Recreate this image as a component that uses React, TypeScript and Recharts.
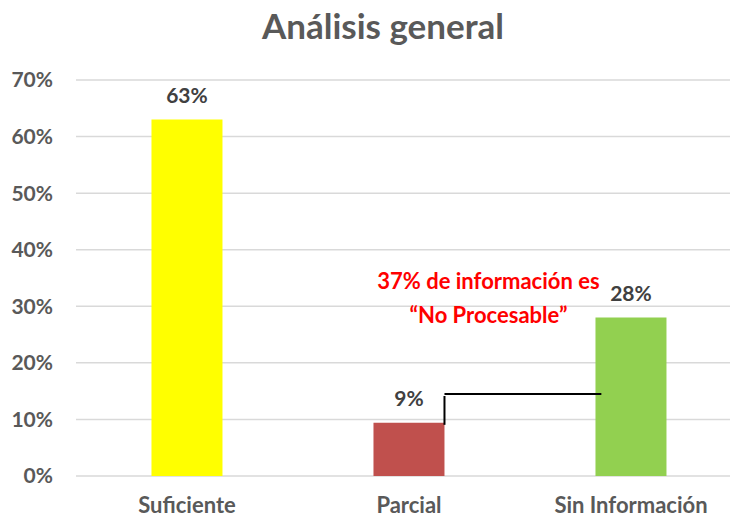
import React from 'react';
import { BarChart, Bar, XAxis, YAxis, CartesianGrid, Cell, LabelList } from 'recharts';

const categories = ['Suficiente', 'Parcial', 'Sin Información'];
const values = [0.63, 0.094, 0.28];
const barColors = ['#FFFF00', '#C0504D', '#92D050'];
const yTicks = [0, 0.1, 0.2, 0.3, 0.4, 0.5, 0.6, 0.7];
const noteLines = ['37% de información es', '“No Procesable”'];
const noteLevels = [0.33, 0.27];
const bracketLevel = 0.145;

const data = categories.map((name, i) => ({ name, value: values[i] }));

const FONT = 'Lato, "Open Sans", sans-serif';
const GAP = 0.34;

const pct = (v: number) => `${Math.round(v * 100)}%`;

const Note = (props: any) => {
  if (props.index !== 1) return null;
  const vb = props.viewBox || props;
  const { x, y, width, height } = vb;
  const ppu = height / values[1];
  const base = y + height;
  const lineY = base - bracketLevel * ppu;
  const band = width / (1 - 2 * GAP);
  const xr = x + width;
  return (
    <g>
      <line x1={xr} y1={lineY + 2} x2={xr} y2={y + 2} stroke="#000" strokeWidth={2} />
      <line x1={xr} y1={lineY} x2={x + band + 6} y2={lineY} stroke="#000" strokeWidth={2} />
      {noteLines.map((t, i) => (
        <text
          key={t}
          x={xr + 44}
          y={base - noteLevels[i] * ppu}
          textAnchor="middle"
          fill="#FF0000"
          fontFamily={FONT}
          fontWeight={700}
          fontSize={22}
        >
          {t}
        </text>
      ))}
    </g>
  );
};

export default function App() {
  return (
    <div style={{ position: 'absolute', left: 0, top: 0, width: 730, height: 517, overflow: 'hidden', background: '#fff' }}>
      <div
        style={{
          position: 'absolute',
          left: 0,
          top: 4,
          width: 766,
          textAlign: 'center',
          fontFamily: FONT,
          fontWeight: 700,
          fontSize: 35,
          color: '#595959',
          lineHeight: '42px',
        }}
      >
        Análisis general
      </div>
      <BarChart
        width={742}
        height={517}
        data={data}
        margin={{ top: 80, right: 0, bottom: 0, left: 0 }}
        barCategoryGap={`${GAP * 100}%`}
      >
        <CartesianGrid vertical={false} stroke="#D9D9D9" strokeWidth={1.5} />
        <XAxis
          dataKey="name"
          height={41}
          axisLine={false}
          tickLine={false}
          tickSize={0}
          tickMargin={21}
          tick={{ fill: '#595959', fontSize: 22, fontWeight: 700, fontFamily: FONT }}
        />
        <YAxis
          width={76}
          domain={[0, 0.7]}
          ticks={yTicks}
          tickFormatter={pct}
          axisLine={false}
          tickLine={false}
          tickSize={0}
          tickMargin={23}
          tick={{ fill: '#595959', fontSize: 21, fontWeight: 700, fontFamily: FONT }}
        />
        <Bar dataKey="value" isAnimationActive={false}>
          {data.map((d, i) => (
            <Cell key={d.name} fill={barColors[i]} />
          ))}
          <LabelList
            dataKey="value"
            position="top"
            offset={17}
            formatter={(v: any) => pct(Number(v))}
            fill="#404040"
            fontSize={21}
            fontWeight={700}
            fontFamily={FONT}
          />
          <LabelList dataKey="value" content={<Note />} />
        </Bar>
      </BarChart>
    </div>
  );
}
